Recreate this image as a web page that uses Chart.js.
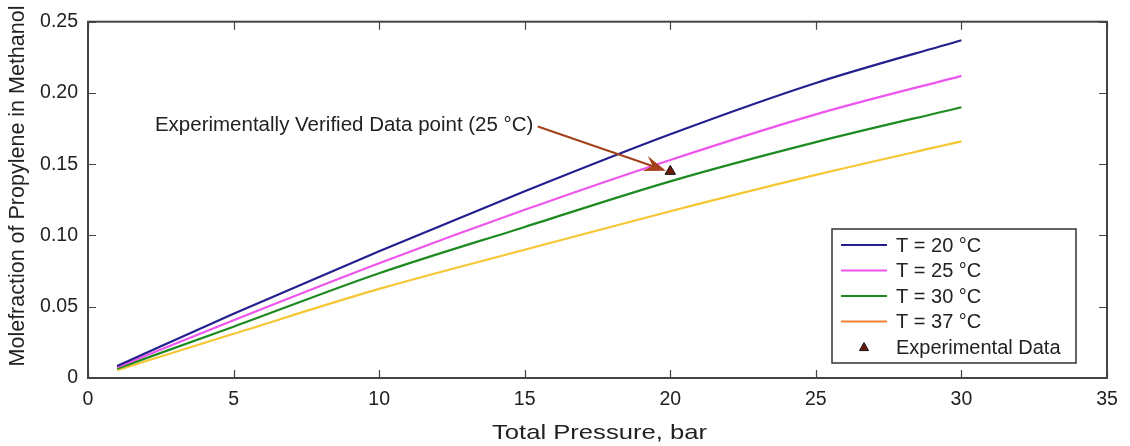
<!DOCTYPE html>
<html>
<head>
<meta charset="utf-8">
<script src="https://cdn.jsdelivr.net/npm/chart.js@4.4.1/dist/chart.umd.min.js"></script>
<style>
  html, body { margin: 0; padding: 0; background: #ffffff; }
  #wrap { width: 1130px; height: 446px; position: relative; }
</style>
</head>
<body>
<div id="wrap"><canvas id="c" width="1130" height="446"></canvas></div>
<script>
// Solubility of propylene in methanol vs. total pressure
const pressure = [1, 5, 10, 15, 20, 25, 30];
const t20 = [0.0085, 0.045, 0.089, 0.131, 0.171, 0.207, 0.237];
const t25 = [0.0076, 0.0405, 0.0805, 0.118, 0.153, 0.185, 0.212];
const t30 = [0.0066, 0.036, 0.0735, 0.106, 0.138, 0.1655, 0.190];
const t37 = [0.0055, 0.031, 0.0625, 0.090, 0.117, 0.1425, 0.166];
const expPressure = [20];
const expFraction = [0.145];
const seriesLabels = ['T = 20 °C', 'T = 25 °C', 'T = 30 °C', 'T = 37 °C', 'Experimental Data'];
const xTicks = [0, 5, 10, 15, 20, 25, 30, 35];
const yTicks = [0, 0.05, 0.10, 0.15, 0.20, 0.25];
const yTickLabels = ['0', '0.05', '0.10', '0.15', '0.20', '0.25'];
const xTitle = 'Total Pressure, bar';
const yTitle = 'Molefraction of Propylene in Methanol';
const noteText = 'Experimentally Verified Data point (25 °C)';

const FONT = '"Liberation Sans", Arial, Helvetica, sans-serif';
const lineColors = ['#24208f', '#ee55ee', '#1e8a22', '#f6c634'];
const legendColors = ['#24208f', '#ee55ee', '#1e8a22', '#f07f32'];

const pts = arr => pressure.map((p, i) => ({ x: p, y: arr[i] }));
const curve = (label, arr, color) => ({
  label, data: pts(arr), borderColor: color, backgroundColor: color,
  borderWidth: 2.2, pointRadius: 0, cubicInterpolationMode: 'monotone', fill: false
});

// Frame, inward ticks, axis titles, legend box and annotation arrow
const decor = {
  id: 'decor',
  afterDatasetsDraw(chart) {
    const { ctx, chartArea: a, scales: { x, y } } = chart;
    ctx.save();
    ctx.strokeStyle = '#444';
    ctx.lineWidth = 2;
    ctx.strokeRect(a.left, a.top, a.right - a.left, a.bottom - a.top);
    ctx.lineWidth = 1.2;
    ctx.beginPath();
    xTicks.forEach(v => {
      const px = Math.round(x.getPixelForValue(v)) + 0.5;
      ctx.moveTo(px, a.bottom); ctx.lineTo(px, a.bottom - 8);
      ctx.moveTo(px, a.top); ctx.lineTo(px, a.top + 8);
    });
    yTicks.forEach(v => {
      const py = Math.round(y.getPixelForValue(v)) + 0.5;
      ctx.moveTo(a.left, py); ctx.lineTo(a.left + 8, py);
      ctx.moveTo(a.right, py); ctx.lineTo(a.right - 8, py);
    });
    ctx.stroke();

    // axis titles
    ctx.fillStyle = '#222';
    ctx.textAlign = 'center';
    ctx.textBaseline = 'middle';
    ctx.save();
    ctx.translate((a.left + a.right) / 2 + 2, 433);
    ctx.scale(1.22, 1);
    ctx.font = '21px ' + FONT;
    ctx.fillText(xTitle, 0, 0);
    ctx.restore();
    ctx.save();
    ctx.translate(18, 186);
    ctx.rotate(-Math.PI / 2);
    ctx.font = '21.5px ' + FONT;
    ctx.fillText(yTitle, 0, 0);
    ctx.restore();

    // annotation arrow pointing at the measured point
    const x0 = x.getPixelForValue(15.45), y0 = y.getPixelForValue(0.1765);
    const x1 = x.getPixelForValue(19.85), y1 = y.getPixelForValue(0.1455);
    const ang = Math.atan2(y1 - y0, x1 - x0);
    ctx.strokeStyle = '#a4401a';
    ctx.fillStyle = '#a4401a';
    ctx.lineWidth = 2;
    ctx.beginPath(); ctx.moveTo(x0, y0); ctx.lineTo(x1 - 12 * Math.cos(ang), y1 - 12 * Math.sin(ang)); ctx.stroke();
    ctx.beginPath();
    ctx.moveTo(x1, y1);
    ctx.lineTo(x1 - 22 * Math.cos(ang) + 8 * Math.sin(ang), y1 - 22 * Math.sin(ang) - 8 * Math.cos(ang));
    ctx.lineTo(x1 - 14 * Math.cos(ang), y1 - 14 * Math.sin(ang));
    ctx.lineTo(x1 - 22 * Math.cos(ang) - 8 * Math.sin(ang), y1 - 22 * Math.sin(ang) + 8 * Math.cos(ang));
    ctx.closePath(); ctx.fill();

    ctx.fillStyle = '#222';
    ctx.font = '20.5px ' + FONT;
    ctx.textAlign = 'right';
    ctx.textBaseline = 'middle';
    ctx.fillText(noteText, x.getPixelForValue(15.3), y.getPixelForValue(0.1775));

    // legend
    const lx = 832, ly = 229, lw = 244, lh = 134;
    ctx.fillStyle = '#ffffff';
    ctx.fillRect(lx, ly, lw, lh);
    ctx.strokeStyle = '#333';
    ctx.lineWidth = 1.5;
    ctx.strokeRect(lx, ly, lw, lh);
    ctx.font = '20px ' + FONT;
    ctx.textAlign = 'left';
    const rowH = 25.5;
    seriesLabels.forEach((lab, i) => {
      const cy = ly + 16 + i * rowH;
      if (i < 4) {
        ctx.strokeStyle = legendColors[i];
        ctx.lineWidth = 2;
        ctx.beginPath(); ctx.moveTo(lx + 9, cy); ctx.lineTo(lx + 55, cy); ctx.stroke();
      } else {
        drawTri(ctx, lx + 32, cy, 4.5);
      }
      ctx.fillStyle = '#222';
      ctx.fillText(lab, lx + 64, cy + 1);
    });
    ctx.restore();
  }
};

function drawTri(ctx, cx, cy, r) {
  ctx.beginPath();
  ctx.moveTo(cx, cy - r);
  ctx.lineTo(cx + r, cy + r * 0.8);
  ctx.lineTo(cx - r, cy + r * 0.8);
  ctx.closePath();
  ctx.fillStyle = '#6b1a0c';
  ctx.fill();
  ctx.strokeStyle = '#111';
  ctx.lineWidth = 1;
  ctx.stroke();
}

new Chart(document.getElementById('c'), {
  type: 'line',
  data: {
    datasets: [
      curve(seriesLabels[0], t20, lineColors[0]),
      curve(seriesLabels[1], t25, lineColors[1]),
      curve(seriesLabels[2], t30, lineColors[2]),
      curve(seriesLabels[3], t37, lineColors[3]),
      {
        type: 'scatter', label: seriesLabels[4],
        data: expPressure.map((p, i) => ({ x: p, y: expFraction[i] })),
        pointStyle: 'triangle', pointRadius: 6, borderWidth: 1,
        backgroundColor: '#6b1a0c', borderColor: '#111', showLine: false
      }
    ]
  },
  options: {
    responsive: false,
    animation: false,
    layout: { padding: { top: 16, right: 23, left: 0, bottom: 0 } },
    plugins: { legend: { display: false }, tooltip: { enabled: false } },
    scales: {
      x: {
        type: 'linear', min: 0, max: 35,
        grid: { display: false, drawTicks: false },
        border: { display: false },
        afterBuildTicks: s => { s.ticks = xTicks.map(v => ({ value: v })); },
        afterFit: s => { s.height = 68; },
        ticks: { color: '#222', padding: 10, maxRotation: 0, font: { family: FONT, size: 19.5 },
                 callback: v => String(v) },
        title: { display: false }
      },
      y: {
        type: 'linear', min: 0, max: 0.25,
        grid: { display: false, drawTicks: false },
        border: { display: false },
        afterBuildTicks: s => { s.ticks = yTicks.map(v => ({ value: v })); },
        afterFit: s => { s.width = 88; },
        ticks: { color: '#222', padding: 10, font: { family: FONT, size: 19.5 },
                 callback: v => yTickLabels[yTicks.findIndex(t => Math.abs(t - v) < 1e-9)] },
        title: { display: false }
      }
    }
  },
  plugins: [decor]
});
</script>
</body>
</html>
